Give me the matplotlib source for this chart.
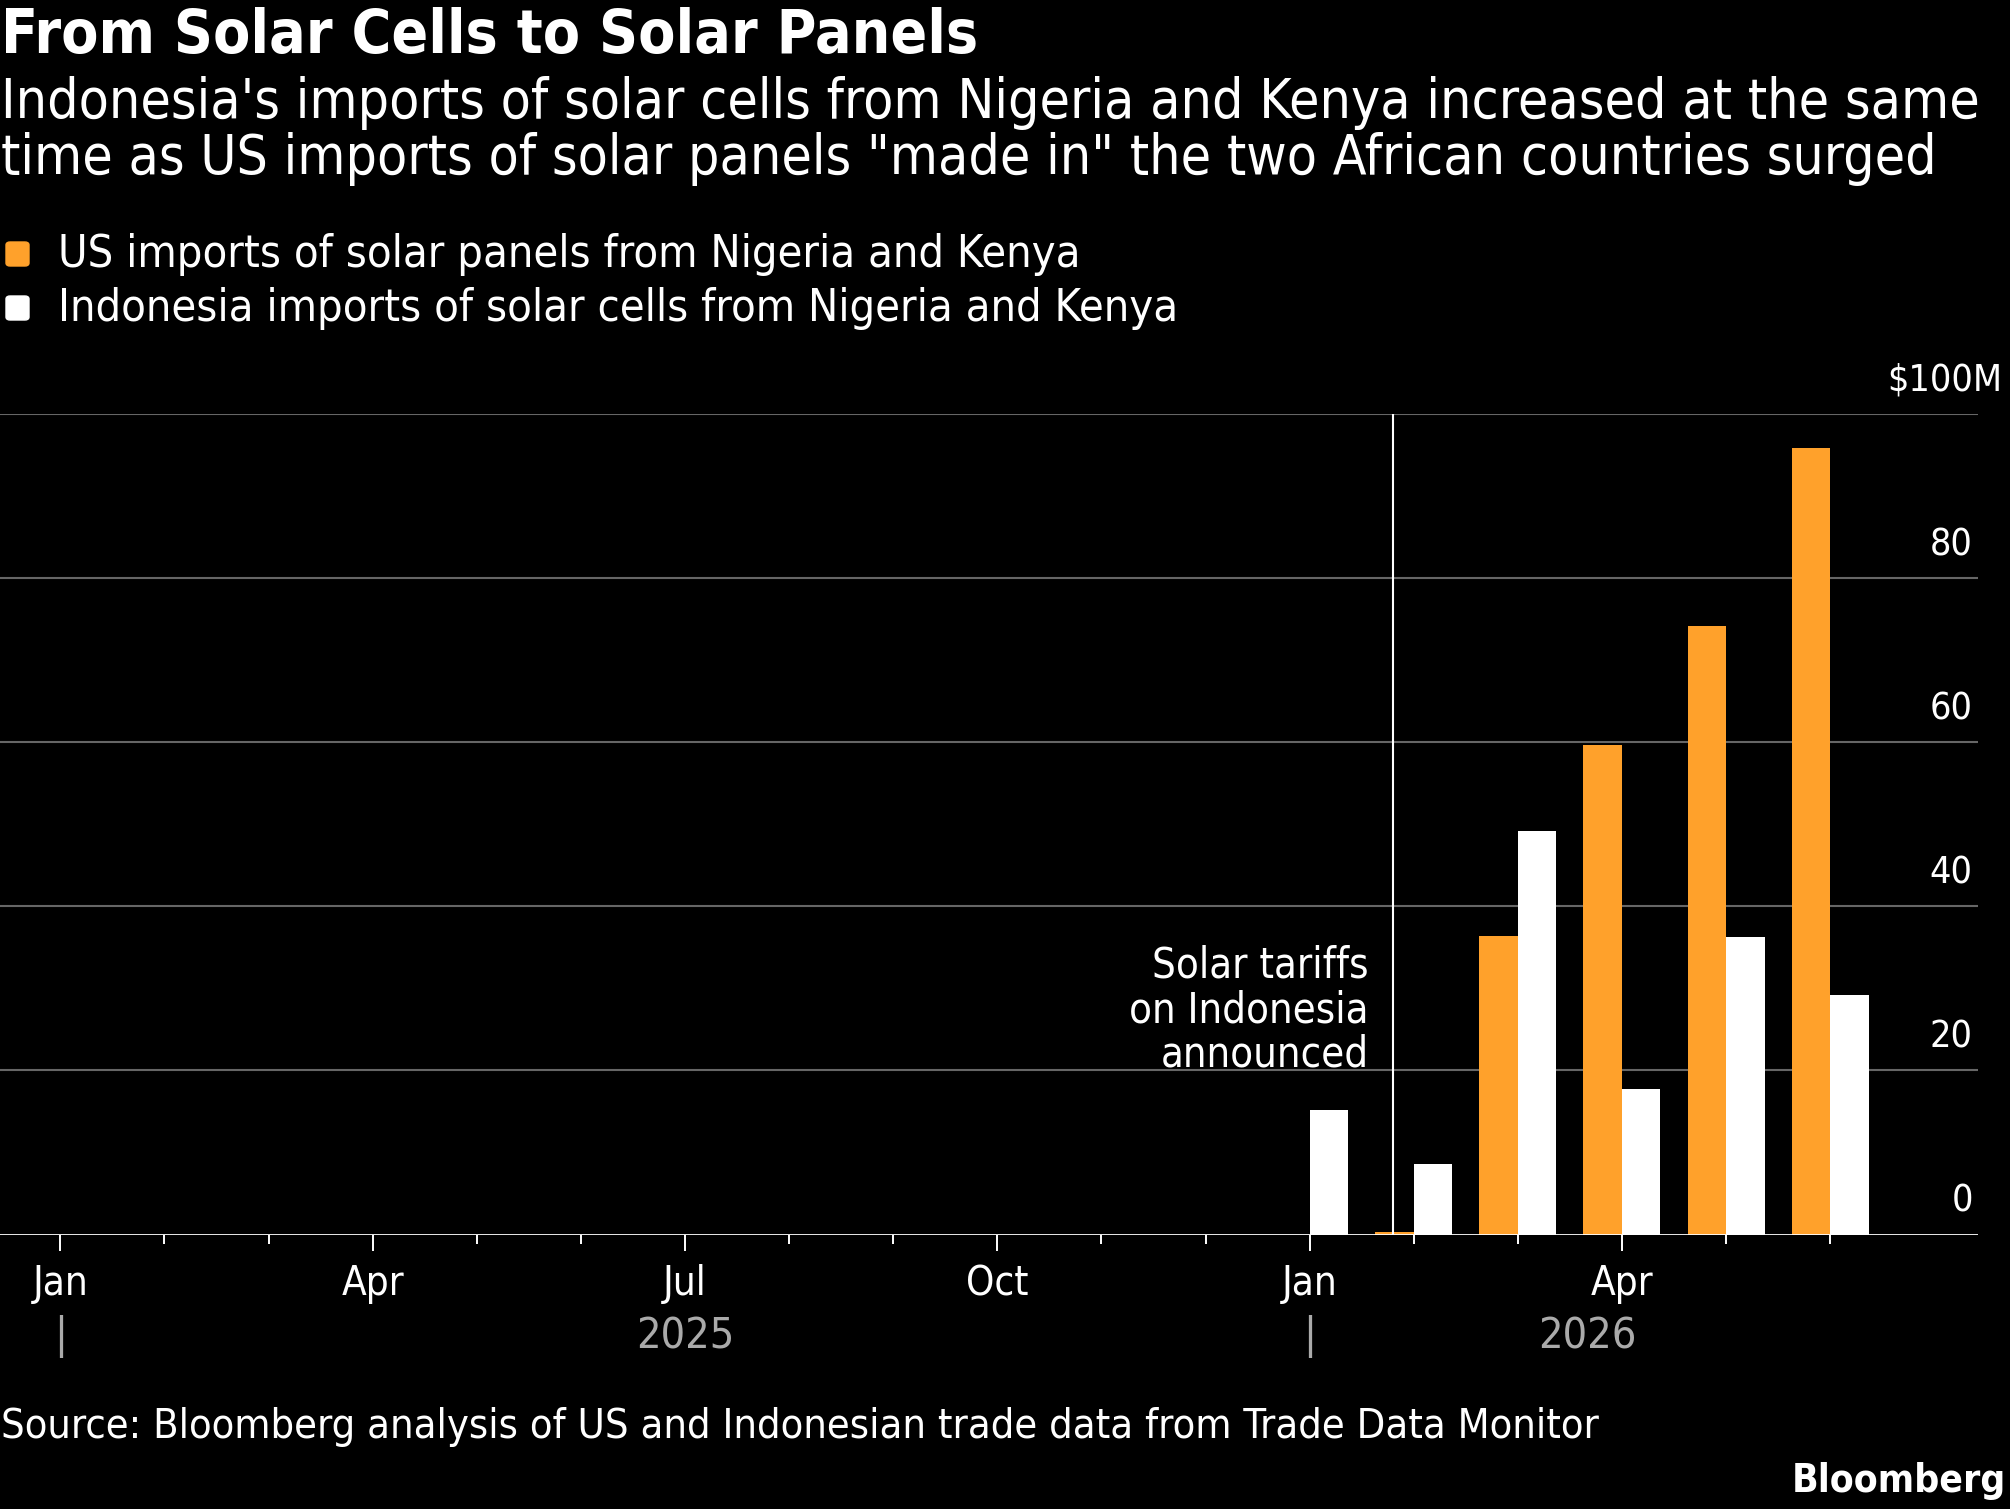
import matplotlib
matplotlib.use("Agg")
import matplotlib.pyplot as plt
from matplotlib.patches import FancyBboxPatch

# month index 0 = Jan 2025 ... 17 = Jun 2026
month_index = [0, 1, 2, 3, 4, 5, 6, 7, 8, 9, 10, 11, 12, 13, 14, 15, 16, 17]
us_panels = [0, 0, 0, 0, 0, 0, 0, 0, 0, 0, 0, 0, 0, 0.3, 36.4, 59.7, 74.2, 95.8]
indo_cells = [0, 0, 0, 0, 0, 0, 0, 0, 0, 0, 0, 0, 15.2, 8.6, 49.2, 17.7, 36.3, 29.2]

tick_pos = [0, 3, 6, 9, 12, 15]
tick_labels = ["Jan", "Apr", "Jul", "Oct", "Jan", "Apr"]
year_pos = [6, 14.67]
year_labels = ["2025", "2026"]
y_ticks = [0, 20, 40, 60, 80, 100]
tariff_month = 12.8

ORANGE = "#FFA12B"
W, H = 2010, 1509

plt.rcParams["font.family"] = "DejaVu Sans"
plt.rcParams["font.stretch"] = "condensed"

fig = plt.figure(figsize=(W / 100, H / 100), dpi=100, facecolor="black")


def fx(px):
    return px / W


def fy(py):
    return 1 - py / H


ax = fig.add_axes([0, fy(1234.5), fx(1978), fy(414) - fy(1234.5)])
ax.set_facecolor("black")
ax.set_xlim(-0.58, 18.42)
ax.set_ylim(0, 100)

for v in y_ticks[1:]:
    ax.axhline(v, color="#666666", lw=1.5, zorder=1)

bw = 0.37
us_x = [m for m, v in zip(month_index, us_panels) if v > 0]
us_v = [v for v in us_panels if v > 0]
in_x = [m for m, v in zip(month_index, indo_cells) if v > 0]
in_v = [v for v in indo_cells if v > 0]
ax.bar(us_x, us_v, width=-bw, align="edge", color=ORANGE, zorder=2)
ax.bar(in_x, in_v, width=bw, align="edge", color="white", zorder=2)

ax.axhline(0, color="white", lw=2, zorder=3)
ax.plot([tariff_month, tariff_month], [0, 100], color="white", lw=1.5, zorder=3)
ax.text(tariff_month - 0.23, 35.4, "Solar tariffs\non Indonesia\nannounced", color="white",
        fontsize=30, ha="right", va="top", linespacing=1.09)

for s in ax.spines.values():
    s.set_visible(False)
ax.set_yticks([])
ax.set_xticks(tick_pos)
ax.set_xticklabels(tick_labels)
ax.set_xticks(month_index, minor=True)
ax.tick_params(axis="x", which="major", length=11.5, width=1.4, colors="white",
               labelsize=29, pad=10)
ax.tick_params(axis="x", which="minor", length=6.5, width=1.4, color="white")
for i, t in enumerate(ax.xaxis.get_major_ticks()):
    if tick_labels[i] == "Jan":
        t.tick1line.set_color("#aaaaaa")

for v in y_ticks[:-1]:
    ax.text(18.37, v + 4.0, str(v), color="white", fontsize=27, ha="right", va="center")
ax.text(18.65, 104.1, "$100M", color="white", fontsize=27, ha="right", va="center",
        clip_on=False)

for p, lab in zip(year_pos, year_labels):
    ax.text(p, -12.4, lab, color="#aaaaaa", fontsize=31, ha="center", va="center")
for p in [0, 12]:
    ax.text(p, -12.4, "|", color="#aaaaaa", fontsize=31, ha="center", va="center")

fig.text(fx(1), fy(36), "From Solar Cells to Solar Panels", color="white",
         fontsize=43.5, fontweight="bold", ha="left", va="center")
fig.text(fx(1), fy(131), "Indonesia's imports of solar cells from Nigeria and Kenya increased at the same\n"
         "time as US imports of solar panels \"made in\" the two African countries surged",
         color="white", fontsize=39.6, ha="left", va="center", linespacing=1.05)

legend = [(ORANGE, "US imports of solar panels from Nigeria and Kenya", 254),
          ("white", "Indonesia imports of solar cells from Nigeria and Kenya", 308)]
for col, lab, y in legend:
    fig.patches.append(FancyBboxPatch((fx(6), fy(y + 12)), fx(23), fy(y - 12) - fy(y + 12),
                                      boxstyle="round,pad=0,rounding_size=0.002",
                                      transform=fig.transFigure, color=col))
    fig.text(fx(58), fy(y), lab, color="white", fontsize=32.4, ha="left", va="center")

fig.text(fx(1), fy(1427), "Source: Bloomberg analysis of US and Indonesian trade data from Trade Data Monitor",
         color="white", fontsize=29.8, ha="left", va="center")
fig.text(fx(2006), fy(1481), "Bloomberg", color="white", fontsize=28, fontweight="bold",
         ha="right", va="center")

fig.savefig("out.png", dpi=100, facecolor="black")
